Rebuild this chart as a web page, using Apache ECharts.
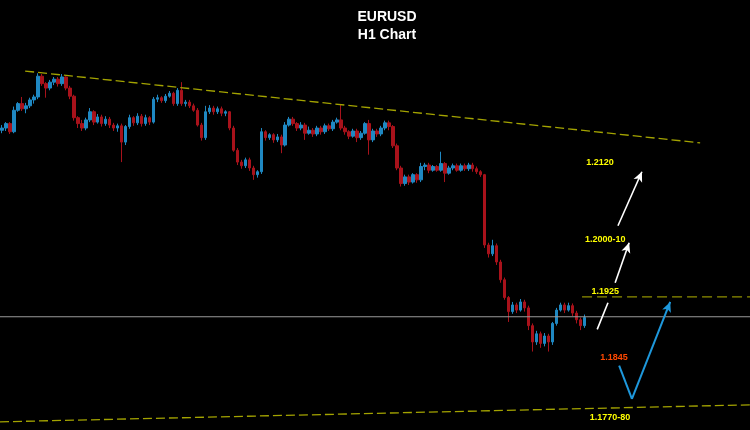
<!DOCTYPE html>
<html>
<head>
<meta charset="utf-8">
<script src="https://cdn.jsdelivr.net/npm/echarts/dist/echarts.min.js"></script>
<style>
html,body{margin:0;padding:0;background:#000;}
#c{width:750px;height:430px;}
</style>
</head>
<body>
<div id="c"></div>
<script>
// EURUSD H1 candles, prices in pips (price x 10000)
const opens = [
12150,12153,12159,12148,12177,12186,12179,12183,12191,12195,
12223,12213,12207,12215,12219,12213,12222,12207,12196,12167,
12159,12153,12164,12175,12161,12168,12159,12165,12157,12153,
12156,12134,12155,12167,12160,12169,12159,12167,12161,12192,
12194,12190,12196,12200,12186,12204,12186,12188,12183,12177,
12157,12140,12175,12180,12175,12179,12173,12175,12153,12123,
12107,12102,12110,12099,12090,12094,12148,12140,12144,12137,
12141,12130,12157,12165,12159,12153,12157,12146,12150,12145,
12153,12148,12156,12152,12161,12164,12153,12148,12142,12149,
12140,12146,12159,12137,12149,12145,12153,12160,12155,12129,
12099,12078,12087,12080,12090,12083,12101,12103,12096,12101,
12096,12105,12092,12099,12102,12096,12102,12098,12103,12098,
12094,12090,11995,11983,11994,11972,11948,11924,11905,11914,
11907,11918,11910,11886,11864,11875,11862,11872,11864,11889,
11907,11914,11907,11913,11903,11894,11886];
const closes = [
12153,12159,12148,12177,12186,12179,12183,12191,12195,12223,
12213,12207,12215,12219,12213,12222,12207,12196,12167,12159,
12153,12164,12175,12161,12168,12159,12165,12157,12153,12156,
12134,12155,12167,12160,12169,12159,12167,12161,12192,12194,
12190,12196,12200,12186,12204,12186,12188,12183,12177,12157,
12140,12175,12180,12175,12179,12173,12175,12153,12123,12107,
12102,12110,12099,12090,12094,12148,12140,12144,12137,12141,
12130,12157,12165,12159,12153,12157,12146,12150,12145,12153,
12148,12156,12152,12161,12164,12153,12148,12142,12149,12140,
12146,12159,12137,12149,12145,12153,12160,12155,12129,12099,
12078,12087,12080,12090,12083,12101,12103,12096,12101,12096,
12105,12092,12099,12102,12096,12102,12098,12103,12098,12094,
12090,11995,11983,11994,11972,11948,11924,11905,11914,11907,
11918,11910,11886,11864,11875,11862,11872,11864,11889,11907,
11914,11907,11913,11903,11894,11886,11897];
const lows = [
12146,12149,12145,12146,12175,12176,12173,12180,12186,12192,
12210,12194,12204,12211,12209,12210,12204,12192,12163,12153,
12149,12150,12161,12157,12159,12155,12156,12153,12149,12148,
12107,12130,12152,12156,12157,12155,12156,12157,12159,12188,
12187,12187,12194,12183,12183,12183,12182,12180,12175,12155,
12136,12137,12172,12171,12172,12169,12169,12150,12121,12103,
12098,12099,12095,12083,12086,12091,12136,12137,12133,12134,
12119,12128,12155,12156,12149,12150,12137,12144,12141,12142,
12144,12145,12149,12149,12159,12150,12144,12138,12140,12134,
12137,12144,12117,12134,12141,12142,12150,12150,12126,12096,
12074,12075,12076,12078,12079,12080,12096,12092,12094,12094,
12094,12080,12090,12096,12094,12094,12095,12095,12094,12091,
12087,11991,11978,11980,11968,11944,11921,11891,11902,11903,
11905,11905,11880,11851,11860,11856,11858,11851,11860,11886,
11905,11903,11905,11899,11889,11880,11883];
const highs = [
12157,12161,12161,12182,12188,12195,12187,12194,12198,12227,
12226,12215,12218,12222,12222,12226,12223,12210,12198,12169,
12164,12167,12180,12177,12172,12171,12169,12168,12160,12159,
12159,12157,12171,12169,12173,12172,12171,12169,12195,12198,
12196,12199,12203,12202,12207,12215,12191,12191,12186,12180,
12160,12183,12184,12183,12182,12182,12177,12176,12156,12126,
12110,12113,12113,12102,12096,12153,12150,12146,12146,12145,
12144,12161,12168,12168,12161,12161,12160,12155,12153,12156,
12156,12159,12159,12164,12167,12184,12156,12150,12152,12152,
12149,12161,12164,12152,12152,12156,12163,12163,12157,12132,
12102,12090,12090,12092,12092,12106,12106,12106,12103,12103,
12121,12107,12102,12105,12105,12105,12105,12106,12106,12101,
12096,12091,11998,12002,11997,11975,11951,11926,11918,11917,
11922,11921,11913,11889,11879,11878,11876,11875,11891,11910,
11917,11917,11917,11916,11906,11897,11901];

// annotation geometry in data units: [bar index, price]
const upperTrend = [[5.8, 1.2230], [175.0, 1.2133]];
const lowerTrend = [[-0.5, 1.1756], [187.5, 1.1779]];
const level1925 = [[145.4, 1.1925], [187.5, 1.1925]];
const currentLine = [[-0.5, 1.1898], [187.5, 1.1898]];
const whiteSeg1 = [[149.2, 1.1881], [151.9, 1.1917]];
const whiteSeg2 = [[153.7, 1.1944], [157.2, 1.1998]];
const whiteSeg3 = [[154.4, 1.2021], [160.4, 1.2094]];
const blueDown = [[154.7, 1.1832], [157.9, 1.1787]];
const blueUp = [[157.9, 1.1787], [167.5, 1.1918]];
const labelTexts = ['1.2120', '1.2000-10', '1.1925', '1.1845', '1.1770-80'];
const labelX = [149.9, 151.2, 151.2, 153.4, 152.4];
const labelY = [1.2106, 1.2003, 1.1932, 1.1843, 1.1762];
const labelColors = ['#ffff00', '#ffff00', '#ffff00', '#ff4800', '#ffff00'];

const SLOTS = 188;
const categories = Array.from({length: SLOTS}, (_, i) => 'h' + i);
const candleData = opens.map((o, i) => [o / 1e4, closes[i] / 1e4, lows[i] / 1e4, highs[i] / 1e4]);

const chart = echarts.init(document.getElementById('c'), null, {renderer: 'canvas'});
const dashYellow = {color: '#a3a300', width: 1.3, type: [9, 4]};

function seg(pts, endSymbol) {
  return [{coord: pts[0], symbol: 'none'}, {coord: pts[1], symbol: endSymbol}];
}

chart.setOption({
  backgroundColor: '#000000',
  animation: false,
  grid: {left: 0, right: 0, top: 0, bottom: 0},
  xAxis: [
    {type: 'category', data: categories, show: false, boundaryGap: true},
    {type: 'value', min: -0.5, max: 187.5, show: false}
  ],
  yAxis: {type: 'value', min: 1.1745, max: 1.2326, show: false, splitLine: {show: false}},
  graphic: [
    {type: 'text', x: 387, y: 17, style: {text: 'EURUSD', fill: '#ffffff', font: 'bold 14px "Liberation Sans", Arial, sans-serif', align: 'center', verticalAlign: 'middle'}},
    {type: 'text', x: 387, y: 35, style: {text: 'H1 Chart', fill: '#ffffff', font: 'bold 14px "Liberation Sans", Arial, sans-serif', align: 'center', verticalAlign: 'middle'}}
  ],
  series: [
    {
      type: 'candlestick', xAxisIndex: 0, data: candleData, barWidth: 3,
      itemStyle: {color: '#1f88c2', color0: '#a8121b', borderColor: '#1f88c2', borderColor0: '#a8121b', borderWidth: 1}
    },
    {type: 'line', xAxisIndex: 1, data: currentLine, symbol: 'none', lineStyle: {color: '#9a9a9a', width: 1}},
    {type: 'line', xAxisIndex: 1, data: upperTrend, symbol: 'none', lineStyle: dashYellow},
    {type: 'line', xAxisIndex: 1, data: lowerTrend, symbol: 'none', lineStyle: dashYellow},
    {type: 'line', xAxisIndex: 1, data: level1925, symbol: 'none', lineStyle: {color: '#8f8f00', width: 1.3, type: [10, 5]}},
    {
      type: 'line', xAxisIndex: 1, data: [], symbol: 'none',
      markLine: {
        silent: true, symbolSize: [7, 10], label: {show: false},
        lineStyle: {color: '#ffffff', width: 1.6, type: 'solid'},
        data: [seg(whiteSeg1, 'none'), seg(whiteSeg2, 'arrow'), seg(whiteSeg3, 'arrow')]
      }
    },
    {
      type: 'line', xAxisIndex: 1, data: [], symbol: 'none',
      markLine: {
        silent: true, symbolSize: [7, 10], label: {show: false},
        lineStyle: {color: '#1e98dc', width: 2, type: 'solid'},
        data: [seg(blueDown, 'none'), seg(blueUp, 'arrow')]
      }
    },
    {
      type: 'scatter', xAxisIndex: 1, symbolSize: 1, itemStyle: {color: 'rgba(0,0,0,0)'},
      data: labelTexts.map((t, i) => ({
        value: [labelX[i], labelY[i]],
        label: {show: true, position: 'inside', formatter: t, color: labelColors[i], opacity: 1,
                fontFamily: '"Liberation Sans", Arial, sans-serif', fontWeight: 'bold', fontSize: 9}
      }))
    }
  ]
});
</script>
</body>
</html>
